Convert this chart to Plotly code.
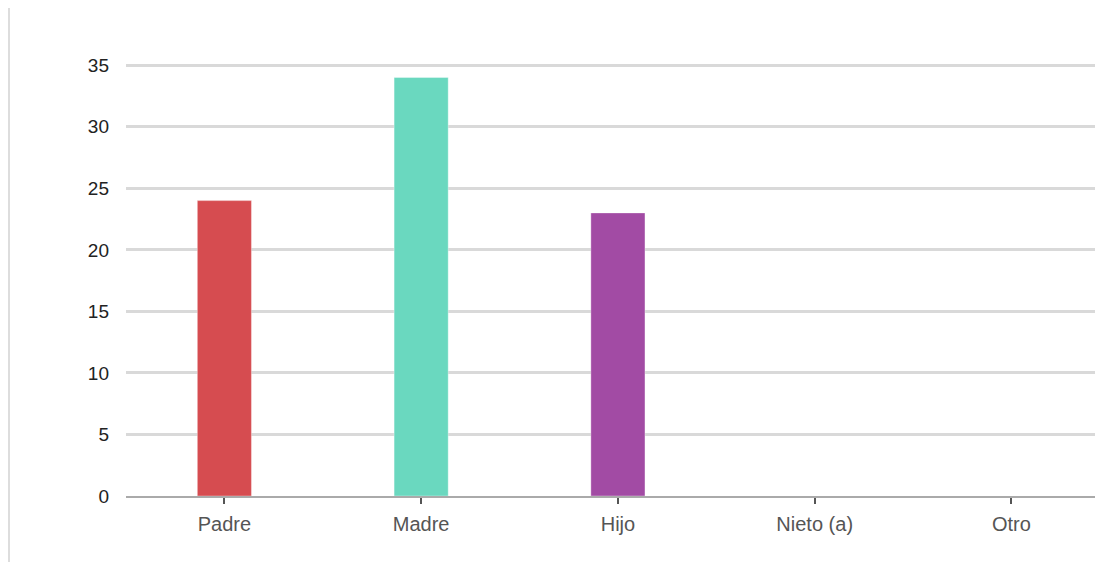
import plotly.graph_objects as go

categories = ["Padre", "Madre", "Hijo", "Nieto (a)", "Otro"]
values = [24, 34, 23, 0, 0]
colors = ["#d64c50", "#6ad8bf", "#a24ba4", "#888888", "#888888"]

W, H = 1095, 554
L, R, T, B = 118, 3, 56, 66
pw, ph = W - L - R, H - T - B

fig = go.Figure()
fig.add_trace(go.Bar(
    x=categories, y=values, width=0.275,
    marker=dict(color=colors, line=dict(color="rgba(255,255,255,0.35)", width=1)),
    hoverinfo="x+y",
))

fig.update_layout(
    width=W, height=H,
    margin=dict(l=L, r=R, t=T, b=B),
    paper_bgcolor="white", plot_bgcolor="white",
    showlegend=False,
    font=dict(family="Liberation Sans, Arial, sans-serif"),
    xaxis=dict(
        range=[-0.5, 4.45],
        showgrid=False,
        showline=True, linecolor="#aaaaaa", linewidth=2,
        ticks="outside", ticklen=6, tickwidth=2, tickcolor="#555555",
        tickfont=dict(size=20, color="#555555"),
        ticklabelstandoff=3,
        zeroline=False,
    ),
    yaxis=dict(
        range=[0, 35.1],
        tickvals=[0, 5, 10, 15, 20, 25, 30, 35],
        showgrid=True, gridcolor="#d9d9d9", gridwidth=2.5,
        zeroline=False,
        showline=False,
        tickfont=dict(size=19, color="#222222"),
        ticklabelstandoff=16,
    ),
    shapes=[dict(type="line", xref="paper", yref="paper",
                 x0=(1 - L) / pw, x1=(1 - L) / pw,
                 y0=-B / ph, y1=1 + T / ph,
                 line=dict(color="#dddddd", width=2))],
)

fig.write_html("out.html")
